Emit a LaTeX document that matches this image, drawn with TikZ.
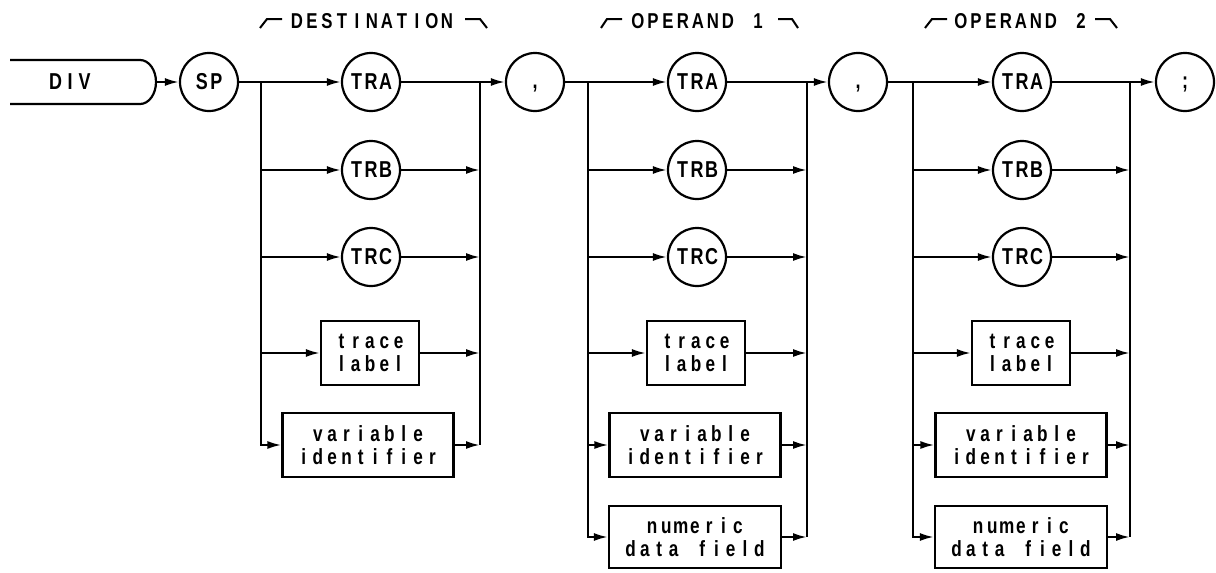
\documentclass[tikz,border=0pt]{standalone}
\usepackage{fontspec}
\newfontfamily\lrfont[FakeStretch=0.78]{Liberation Sans}
\usetikzlibrary{arrows.meta}
\newlength\lrw
\makeatletter
\def\lr#1{\lr@loop#1\@nil}
\def\lr@loop#1{\ifx#1\@nil\else\makebox[\lrw][c]{#1}\expandafter\lr@loop\fi}
\makeatother
\tikzset{
  ln/.style={line width=2.2pt},
  arr/.style={ln,-{Latex[length=14pt,width=8pt]}},
  term/.style={circle, draw, ln, minimum size=58pt, inner sep=0pt,
    font={\lrfont\bfseries\fontsize{23}{26}\selectfont\setlength\lrw{14.5pt}}},
  ntbox/.style={draw, ln, inner sep=0pt, align=center,
    font={\lrfont\bfseries\fontsize{22}{22.5}\selectfont\setlength\lrw{14.3pt}}},
  hdr/.style={inner sep=0pt,
    font={\lrfont\bfseries\fontsize{21.5}{24}\selectfont\setlength\lrw{15pt}}},
  brk/.style={line width=2pt},
  tlbox/.style={ntbox, minimum width=98pt, minimum height=64pt},
  vibox/.style={ntbox, minimum width=171pt, minimum height=64pt},
  ndbox/.style={ntbox, minimum width=172pt, minimum height=62pt}
}
\begin{document}
\begin{tikzpicture}[x=1pt,y=-1pt]
\useasboundingbox (0,0) rectangle (1216,573);

% DIV keyword
\draw[ln] (10,60) -- (140,60) .. controls (149,60) and (156,70) .. (156,82)
  .. controls (156,94) and (149,104) .. (140,104) -- (10,104);
\node[inner sep=0pt, font={\lrfont\bfseries\fontsize{23}{26}\selectfont\setlength\lrw{14.5pt}}] (div) at (70,82) {\lr{DIV}};
\coordinate (divend) at (156,82);
\node[term] (sp) at (209,82) {\lr{SP}};

% split / merge points
\coordinate (s1) at (261,82);  \coordinate (m1) at (480,82);
\coordinate (s2) at (588,82);  \coordinate (m2) at (807,82);
\coordinate (s3) at (913,82);  \coordinate (m3) at (1130,82);

% section 1 : destination
\node[term] (tra1) at (371,82)  {\lr{TRA}};
\node[term] (trb1) at (371,170) {\lr{TRB}};
\node[term] (trc1) at (371,257) {\lr{TRC}};
\node[tlbox] (tl1) at (370,353) {\lr{trace}\\\lr{label}};
\node[vibox] (vi1) at (368,445) {\lr{variable}\\\lr{identifier}};
\node[term] (c1) at (535,82) {\vphantom{A},};

% section 2 : operand 1
\node[term] (tra2) at (697,82)  {\lr{TRA}};
\node[term] (trb2) at (697,170) {\lr{TRB}};
\node[term] (trc2) at (697,257) {\lr{TRC}};
\node[tlbox] (tl2) at (696,353) {\lr{trace}\\\lr{label}};
\node[vibox] (vi2) at (695,445) {\lr{variable}\\\lr{identifier}};
\node[ndbox] (nd2) at (695,537) {\lr{numeric}\\\lr{data~field}};
\node[term] (c2) at (858,82) {\vphantom{A},};

% section 3 : operand 2
\node[term] (tra3) at (1022,82)  {\lr{TRA}};
\node[term] (trb3) at (1022,170) {\lr{TRB}};
\node[term] (trc3) at (1022,257) {\lr{TRC}};
\node[tlbox] (tl3) at (1021,353) {\lr{trace}\\\lr{label}};
\node[vibox] (vi3) at (1021,445) {\lr{variable}\\\lr{identifier}};
\node[ndbox] (nd3) at (1021,537) {\lr{numeric}\\\lr{data~field}};
\node[term] (sc) at (1185,82) {\vphantom{A};};

% headers
\node[hdr] (h1) at (372,21) {\lr{DESTINATION}};
\node[hdr] (h2) at (698,21) {\lr{OPERAND~1}};
\node[hdr] (h3) at (1021,21) {\lr{OPERAND~2}};
\draw[brk] (260,28) -- (267,19) -- (282,19);
\draw[brk] (465,19) -- (480,19) -- (487,28);
\draw[brk] (601,28) -- (607,19) -- (622,19);
\draw[brk] (778,19) -- (792,19) -- (798,28);
\draw[brk] (925,28) -- (932,19) -- (947,19);
\draw[brk] (1095,19) -- (1110,19) -- (1117,28);

% main line connectors
\draw[arr] (divend) -- (sp);
\draw[arr] (sp) -- (tra1);
\draw[arr] (tra1) -- (c1);
\draw[arr] (c1) -- (tra2);
\draw[arr] (tra2) -- (c2);
\draw[arr] (c2) -- (tra3);
\draw[arr] (tra3) -- (sc);

% section 1 branches
\draw[arr] (s1) |- (vi1.west);
\foreach \n in {trb1,trc1,tl1} \draw[arr] (s1 |- \n) -- (\n);
\draw[ln] (m1) -- (m1 |- vi1);
\foreach \n in {trb1,trc1,tl1,vi1} \draw[arr] (\n) -- (m1 |- \n);

% section 2 branches
\draw[arr] (s2) |- (nd2.west);
\foreach \n in {trb2,trc2,tl2,vi2} \draw[arr] (s2 |- \n) -- (\n);
\draw[ln] (m2) -- (m2 |- nd2);
\foreach \n in {trb2,trc2,tl2,vi2,nd2} \draw[arr] (\n) -- (m2 |- \n);

% section 3 branches
\draw[arr] (s3) |- (nd3.west);
\foreach \n in {trb3,trc3,tl3,vi3} \draw[arr] (s3 |- \n) -- (\n);
\draw[ln] (m3) -- (m3 |- nd3);
\foreach \n in {trb3,trc3,tl3,vi3,nd3} \draw[arr] (\n) -- (m3 |- \n);
\end{tikzpicture}
\end{document}
